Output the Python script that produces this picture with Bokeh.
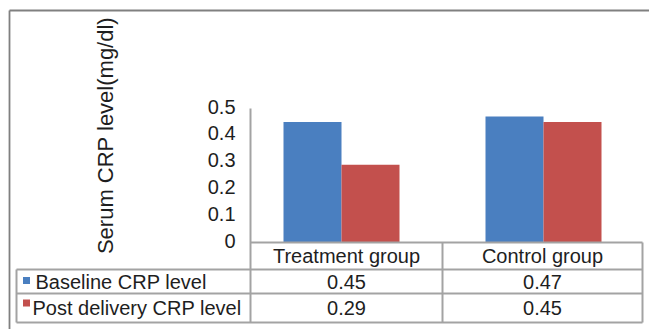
from bokeh.plotting import figure
from bokeh.models import Range1d
from bokeh.embed import file_html
from bokeh.resources import INLINE
from bokeh.core.properties import value

# ---------------- data ----------------
categories = ["Treatment group", "Control group"]
series_names = ["Baseline CRP level", "Post delivery CRP level"]
baseline = [0.45, 0.47]
post_delivery = [0.29, 0.45]
y_ticks = [0, 0.1, 0.2, 0.3, 0.4, 0.5]
y_tick_labels = ["0", "0.1", "0.2", "0.3", "0.4", "0.5"]
y_title = "Serum CRP level(mg/dl)"
colors = ["#4A7FC0", "#C3504D"]

# ---------------- layout (pixels) ----------------
W, H = 649, 329
X_UNIT = 202.0    # px per category
X_ORIGIN = 240.0  # px where category coordinate 0 sits
Y_UNIT = 268.0    # px per mg/dl
Y_ZERO = 242.0    # px where value 0 sits


def dx(px):
    return (px - X_ORIGIN) / X_UNIT


def dy(py):
    return (Y_ZERO - py) / Y_UNIT


FONT = value("Liberation Sans")
TXT = "#1e1e1e"
GRID = "#a3a3a3"
FRAME = "#808080"
FS = "20px"

p = figure(width=W, height=H,
           x_range=Range1d(dx(0), dx(W)), y_range=Range1d(dy(H), dy(0)),
           x_axis_location=None, y_axis_location=None,
           output_backend="svg", toolbar_location=None, min_border=0)
p.grid.visible = False
p.outline_line_color = None
p.background_fill_color = "white"
p.border_fill_color = "white"

# ---------------- bars ----------------
centers = [i + 0.5 for i in range(len(categories))]
bar_w = 58.0 / X_UNIT
p.vbar(x=[c - bar_w / 2 for c in centers], top=baseline, bottom=0, width=bar_w,
       fill_color=colors[0], line_color=None)
p.vbar(x=[c + bar_w / 2 for c in centers], top=post_delivery, bottom=0, width=bar_w,
       fill_color=colors[1], line_color=None)

# ---------------- outer frame ----------------
p.segment(x0=[dx(9), dx(9)], y0=[dy(10), dy(10)], x1=[dx(W + 5), dx(9)], y1=[dy(10), dy(H + 5)],
          line_color=FRAME, line_width=1.8)

# ---------------- axis + data table grid ----------------
ax_x = dx(250)
col_div = dx(442)
tab_right = dx(642)
tab_left = dx(16)
row_lines = [dy(269), dy(293), dy(322)]
x0s = [ax_x, ax_x] + [tab_left] * 3 + [tab_left, col_div, tab_right]
y0s = [max(y_ticks), 0] + row_lines + [row_lines[0], 0, 0]
x1s = [ax_x, tab_right] + [tab_right] * 3 + [tab_left, col_div, tab_right]
y1s = [row_lines[-1], 0] + row_lines + [row_lines[-1], row_lines[-1], row_lines[-1]]
p.segment(x0=x0s, y0=y0s, x1=x1s, y1=y1s, line_color=GRID, line_width=2)

# ---------------- y tick labels & title ----------------
p.text(x=[dx(235)] * len(y_ticks), y=y_ticks, text=y_tick_labels, y_offset=-2,
       text_font=FONT, text_font_size=FS, text_color=TXT,
       text_align="right", text_baseline="middle")
p.text(x=[dx(105)], y=[dy(135)], text=[y_title], angle=1.5707963,
       text_font=FONT, text_font_size="22px", text_color=TXT,
       text_align="center", text_baseline="middle")

# ---------------- table texts ----------------
col_centers = [(ax_x + col_div) / 2, (col_div + tab_right) / 2]
p.text(x=col_centers, y=[dy(255.5)] * 2, text=categories,
       text_font=FONT, text_font_size=FS, text_color=TXT,
       text_align="center", text_baseline="middle")
row_centers = [dy(281), dy(307.5)]
for r, vals in enumerate([baseline, post_delivery]):
    p.text(x=col_centers, y=[row_centers[r]] * len(vals), text=[f"{v:.2f}" for v in vals],
           text_font=FONT, text_font_size=FS, text_color=TXT,
           text_align="center", text_baseline="middle")

# legend keys in table
p.text(x=[dx(35), dx(32)], y=row_centers, text=series_names,
       text_font=FONT, text_font_size=FS, text_color=TXT,
       text_align="left", text_baseline="middle")
p.scatter(x=[dx(26), dx(26)], y=[dy(280), dy(302.5)], marker="square", size=7,
          fill_color=colors, line_color=None)

open("out.html", "w").write(file_html(p, INLINE))
